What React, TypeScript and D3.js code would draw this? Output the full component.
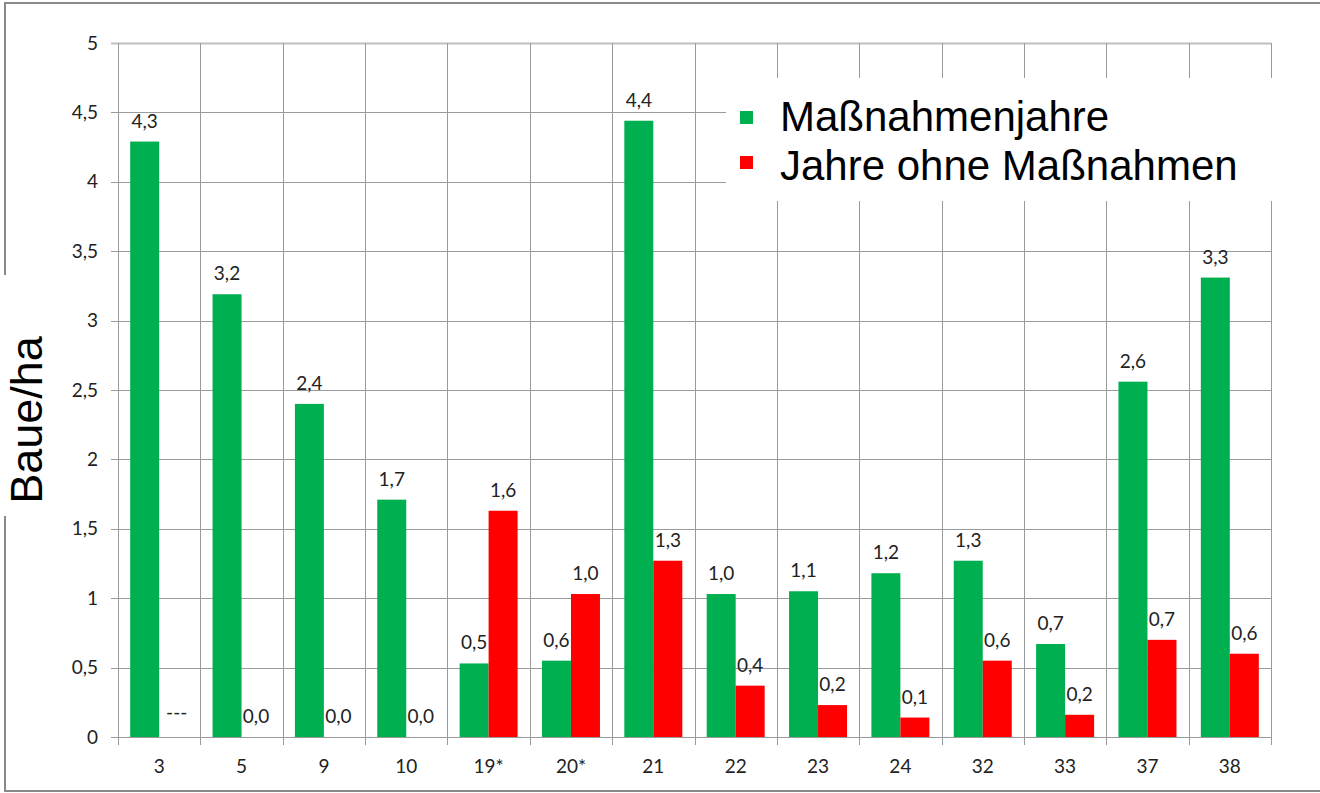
import React, { useRef, useEffect } from "react";
import * as d3 from "d3";

const categories = ["3", "5", "9", "10", "19*", "20*", "21", "22", "23", "24", "32", "33", "37", "38"];
const massnahmenjahre = [4.29, 3.19, 2.4, 1.71, 0.53, 0.55, 4.44, 1.03, 1.05, 1.18, 1.27, 0.67, 2.56, 3.31];
const ohneMassnahmen = [null, 0, 0, 0, 1.63, 1.03, 1.27, 0.37, 0.23, 0.14, 0.55, 0.16, 0.7, 0.6];
const yTicks = [0, 0.5, 1, 1.5, 2, 2.5, 3, 3.5, 4, 4.5, 5];
const seriesNames = ["Maßnahmenjahre", "Jahre ohne Maßnahmen"];
const seriesColors = ["#00B050", "#FF0000"];

const fmt = (v) => v.toFixed(1).replace(".", ",");

const App = () => {
  const ref = useRef(null);

  useEffect(() => {
    const svg = d3.select(ref.current);
    svg.selectAll("*").remove();

    const left = 118, right = 1271, top = 43, bottom = 737;
    const tickFont = "Lato, 'Open Sans', sans-serif";
    const tickSize = "19px";

    const x = d3.scaleBand().domain(categories).range([left, right]).padding(0);
    const inner = d3.scaleBand().domain(["0", "1"]).range([0, x.bandwidth()]).paddingInner(0).paddingOuter(0.42);
    const y = d3.scaleLinear().domain([0, 5]).range([bottom, top]);

    // outer frame
    svg.append("path")
      .attr("d", "M1320,3 H5 V791 H1320")
      .attr("fill", "none")
      .attr("stroke", "#898989")
      .attr("stroke-width", 2);

    // horizontal gridlines + ticks
    yTicks.forEach((t) => {
      svg.append("line")
        .attr("x1", left - 7).attr("x2", right)
        .attr("y1", Math.round(y(t)) + 0.5).attr("y2", Math.round(y(t)) + 0.5)
        .attr("stroke", t === 5 ? "#c0c0c0" : "#9a9a9a")
        .attr("stroke-width", t === 5 ? 2 : 1);
      svg.append("text")
        .attr("x", 98).attr("y", y(t)).attr("dy", "0.35em")
        .attr("text-anchor", "end")
        .style("font-family", tickFont).style("font-size", tickSize).attr("fill", "#222")
        .text(String(t).replace(".", ","));
    });

    // vertical gridlines
    const bounds = categories.map((c) => x(c)).concat([right]);
    bounds.forEach((b) => {
      svg.append("line")
        .attr("x1", Math.round(b) + 0.5).attr("x2", Math.round(b) + 0.5)
        .attr("y1", top).attr("y2", bottom + 8)
        .attr("stroke", "#9a9a9a").attr("stroke-width", 1);
    });

    // bars
    const series = [massnahmenjahre, ohneMassnahmen];
    series.forEach((vals, si) => {
      categories.forEach((c, i) => {
        const v = vals[i];
        const bx = x(c) + inner(String(si));
        const bw = inner.bandwidth();
        if (v !== null && v > 0) {
          svg.append("rect")
            .attr("x", bx).attr("y", y(v))
            .attr("width", bw).attr("height", y(0) - y(v))
            .attr("fill", seriesColors[si]);
        }
        svg.append("text")
          .attr("x", bx + bw / 2 + (v === null ? 3 : 0))
          .attr("y", v === null ? y(0) - 18 : y(v) - 14)
          .attr("text-anchor", "middle")
          .style("font-family", tickFont).style("font-size", tickSize).attr("fill", "#222")
          .text(v === null ? "---" : fmt(v));
      });
    });

    // x labels
    categories.forEach((c) => {
      svg.append("text")
        .attr("x", x(c) + x.bandwidth() / 2).attr("y", 773)
        .attr("text-anchor", "middle")
        .style("font-family", tickFont).style("font-size", tickSize).attr("fill", "#222")
        .text(c);
    });

    // legend
    svg.append("rect").attr("x", 726).attr("y", 78).attr("width", 594).attr("height", 123).attr("fill", "#fff");
    seriesNames.forEach((n, i) => {
      svg.append("rect")
        .attr("x", 740).attr("y", 111 + i * 45)
        .attr("width", 13).attr("height", 13)
        .attr("fill", seriesColors[i]);
      svg.append("text")
        .attr("x", 780).attr("y", 131 + i * 49)
        .style("font-family", "'Liberation Sans', Arial, sans-serif").style("font-size", "42px").attr("fill", "#000")
        .text(n);
    });

    // y axis title over a white gap in the frame
    svg.append("rect").attr("x", 0).attr("y", 275).attr("width", 12).attr("height", 241).attr("fill", "#fff");
    svg.append("text")
      .attr("transform", "translate(42,420) rotate(-90)")
      .attr("text-anchor", "middle")
      .style("font-family", "'Liberation Sans', Arial, sans-serif").style("font-size", "45px").attr("fill", "#000")
      .text("Baue/ha");
  }, []);

  return (
    <svg
      ref={ref}
      width={1320}
      height={793}
      style={{ position: "absolute", left: 0, top: 0, background: "#fff" }}
    />
  );
};

export default App;
